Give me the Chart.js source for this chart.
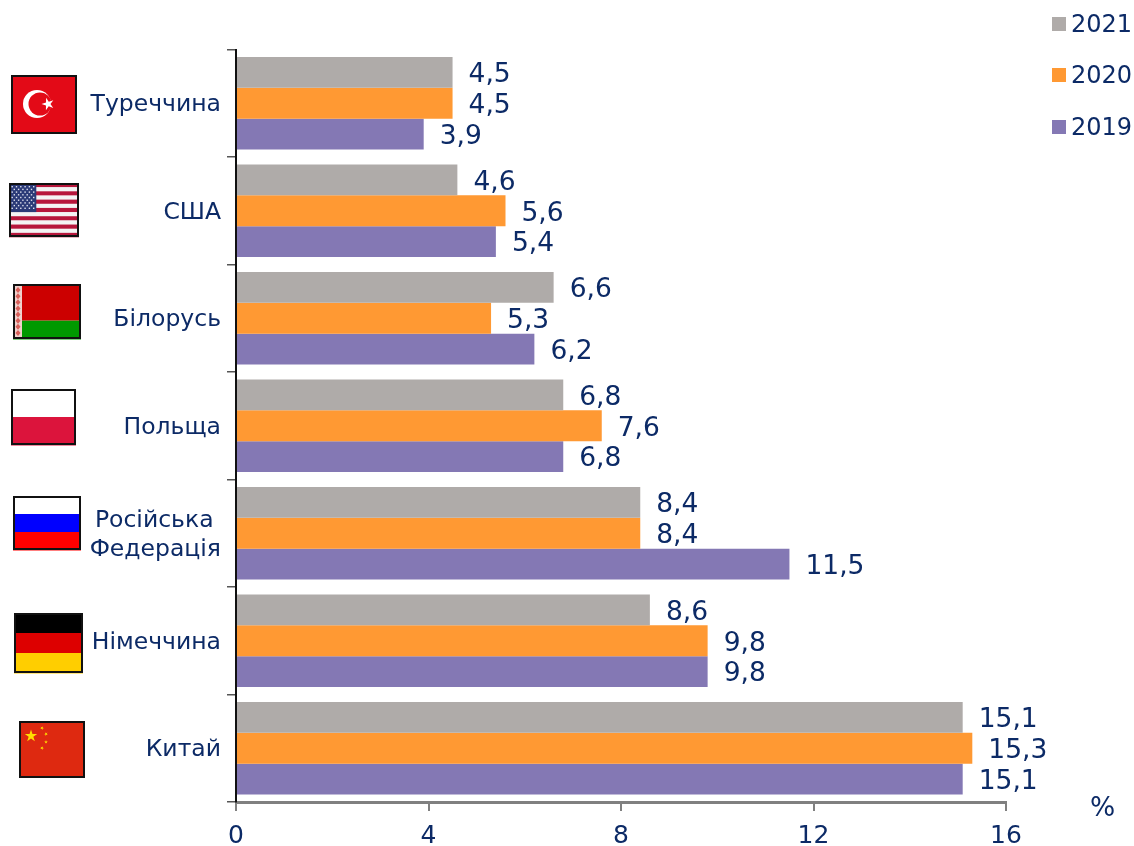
<!DOCTYPE html>
<html>
<head>
<meta charset="utf-8">
<style>
  html, body { margin: 0; padding: 0; background: #fff; }
  canvas { display: block; }
</style>
<script src="https://cdn.jsdelivr.net/npm/chart.js@4/dist/chart.umd.min.js"></script>
</head>
<body>
<canvas id="importChart" width="1134" height="846"></canvas>
<script>
// дані з графіка
var categories = ['Туреччина', 'США', 'Білорусь', 'Польща', ['Російська ', 'Федерація'], 'Німеччина', 'Китай'];
var seriesNames = ['2021', '2020', '2019'];
var values2021 = [4.5, 4.6, 6.6, 6.8, 8.4, 8.6, 15.1];
var values2020 = [4.5, 5.6, 5.3, 7.6, 8.4, 9.8, 15.3];
var values2019 = [3.9, 5.4, 6.2, 6.8, 11.5, 9.8, 15.1];
var xTicks = [0, 4, 8, 12, 16];

var TEXT_COLOR = '#0c2a66';
var FONT = '"DejaVu Sans", Verdana, sans-serif';

function star(ctx, cx, cy, r, rot, color) {
  ctx.fillStyle = color;
  ctx.beginPath();
  for (var i = 0; i < 10; i++) {
    var rad = i % 2 ? r * 0.38 : r;
    var a = rot - Math.PI / 2 + i * Math.PI / 5;
    ctx.lineTo(cx + rad * Math.cos(a), cy + rad * Math.sin(a));
  }
  ctx.closePath();
  ctx.fill();
}

function bands(ctx, x, y, w, h, colors) {
  var bh = h / colors.length;
  colors.forEach(function (c, i) {
    ctx.fillStyle = c;
    ctx.fillRect(x, y + i * bh, w, bh + 0.5);
  });
}

// прапори (x, y, w, h - зовнішня рамка)
var flagDraw = [
  function (c, x, y, w, h) { // Туреччина
    c.fillStyle = '#e30a17'; c.fillRect(x, y, w, h);
    c.fillStyle = '#fff'; c.beginPath(); c.arc(x + 26, y + 29, 14, 0, Math.PI * 2); c.fill();
    c.fillStyle = '#e30a17'; c.beginPath(); c.arc(x + 29, y + 29, 11.5, 0, Math.PI * 2); c.fill();
    star(c, x + 37, y + 29, 6.5, -0.3, '#fff');
  },
  function (c, x, y, w, h) { // США
    var sh = h / 13;
    for (var i = 0; i < 13; i++) {
      c.fillStyle = i % 2 ? '#f4f4f4' : '#b7173c';
      c.fillRect(x, y + i * sh, w, sh + 0.3);
    }
    c.fillStyle = '#2b3a77'; c.fillRect(x, y, w * 0.39, sh * 7);
    c.fillStyle = '#dfe2ee';
    for (var r = 0; r < 9; r++) {
      for (var k = 0; k < (r % 2 ? 5 : 6); k++) {
        c.fillRect(x + 2.5 + k * 4.3 + (r % 2 ? 2.1 : 0), y + 3 + r * 2.7, 1.4, 1.4);
      }
    }
  },
  function (c, x, y, w, h) { // Білорусь
    c.fillStyle = '#cc0000'; c.fillRect(x, y, w, h * 2 / 3);
    c.fillStyle = '#009900'; c.fillRect(x, y + h * 2 / 3, w, h / 3 + 0.5);
    c.fillStyle = '#f0d0cc'; c.fillRect(x, y, 9, h);
    c.fillStyle = '#d8605a';
    for (var i = 0; i < 8; i++) {
      c.beginPath();
      var my = y + 3 + i * (h - 6) / 8;
      c.moveTo(x + 5, my); c.lineTo(x + 7.5, my + 3); c.lineTo(x + 5, my + 6); c.lineTo(x + 2.5, my + 3);
      c.closePath(); c.fill();
    }
  },
  function (c, x, y, w, h) { // Польща
    bands(c, x, y, w, h, ['#ffffff', '#dc143c']);
  },
  function (c, x, y, w, h) { // РФ
    bands(c, x, y, w, h, ['#ffffff', '#0000ff', '#ff0000']);
  },
  function (c, x, y, w, h) { // Німеччина
    bands(c, x, y, w, h, ['#000000', '#dd0000', '#ffce00']);
  },
  function (c, x, y, w, h) { // Китай
    c.fillStyle = '#de2910'; c.fillRect(x, y, w, h);
    star(c, x + 12, y + 15, 6.5, 0, '#ffde00');
    star(c, x + 23, y + 7, 2, 0.4, '#ffde00');
    star(c, x + 27, y + 13, 2, 0.8, '#ffde00');
    star(c, x + 27, y + 21, 2, 0, '#ffde00');
    star(c, x + 23, y + 27, 2, 0.4, '#ffde00');
  }
];
var flagBoxes = [
  [11, 75, 66, 59], [9, 183, 70, 54], [13, 284, 68, 55], [11, 389, 65, 56],
  [13, 496, 68, 54], [14, 613, 69, 60], [19, 721, 66, 57]
];

var decorPlugin = {
  id: 'decor',
  afterDatasetsDraw: function (chart) {
    var ctx = chart.ctx;
    ctx.save();

    // підписи значень
    ctx.font = '26.5px ' + FONT;
    ctx.fillStyle = TEXT_COLOR;
    ctx.textAlign = 'left';
    ctx.textBaseline = 'middle';
    chart.data.datasets.forEach(function (ds, i) {
      chart.getDatasetMeta(i).data.forEach(function (bar, j) {
        ctx.fillText(ds.data[j].toFixed(1).replace('.', ','), bar.x + 16, bar.y + 3);
      });
    });

    // легенда
    var legendY = [24, 75, 127];
    ctx.font = '24px ' + FONT;
    chart.data.datasets.forEach(function (ds, i) {
      ctx.fillStyle = ds.backgroundColor;
      ctx.fillRect(1052, legendY[i] - 7, 14, 14);
      ctx.fillStyle = TEXT_COLOR;
      ctx.fillText(ds.label, 1071, legendY[i] + 2);
    });

    // одиниця виміру
    ctx.font = '26.5px ' + FONT;
    ctx.fillText('%', 1090, 809);

    // прапори
    flagBoxes.forEach(function (b, i) {
      flagDraw[i](ctx, b[0], b[1], b[2], b[3]);
      ctx.strokeStyle = '#111';
      ctx.lineWidth = 2;
      ctx.strokeRect(b[0] + 1, b[1] + 1, b[2] - 2, b[3] - 2);
    });
    ctx.restore();
  }
};

new Chart(document.getElementById('importChart').getContext('2d'), {
  type: 'bar',
  data: {
    labels: categories,
    datasets: [
      { label: seriesNames[0], data: values2021, backgroundColor: '#afaba9' },
      { label: seriesNames[1], data: values2020, backgroundColor: '#ff9933' },
      { label: seriesNames[2], data: values2019, backgroundColor: '#8478b4' }
    ]
  },
  options: {
    indexAxis: 'y',
    responsive: false,
    animation: false,
    barPercentage: 1,
    categoryPercentage: 0.86,
    layout: { padding: { top: 49.5, right: 128, left: 0, bottom: 0 } },
    scales: {
      x: {
        min: 0,
        max: 16,
        afterBuildTicks: function (axis) {
          axis.ticks = xTicks.map(function (v) { return { value: v }; });
        },
        afterFit: function (axis) { axis.height = 44; },
        border: { color: '#808080', width: 3 },
        grid: { drawOnChartArea: false, color: '#808080', lineWidth: 2, tickLength: 9 },
        ticks: { color: TEXT_COLOR, font: { family: FONT, size: 25 }, padding: 10, maxRotation: 0 }
      },
      y: {
        afterFit: function (axis) { axis.width = 236; },
        border: { color: '#111', width: 2 },
        grid: { drawOnChartArea: false, color: '#555', lineWidth: 1.5, tickLength: 9 },
        ticks: { color: TEXT_COLOR, font: { family: FONT, size: 23.5, lineHeight: 1.22 }, padding: 6, autoSkip: false, labelOffset: 2 }
      }
    },
    plugins: {
      legend: { display: false },
      tooltip: { enabled: false }
    }
  },
  plugins: [decorPlugin]
});
</script>
</body>
</html>
